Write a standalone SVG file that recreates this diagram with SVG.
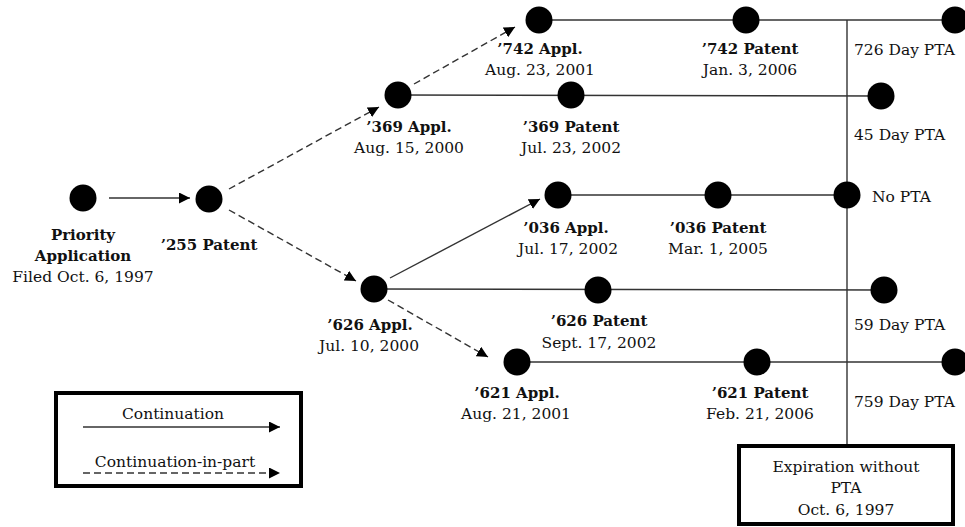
<svg xmlns="http://www.w3.org/2000/svg" width="965" height="527" viewBox="0 0 965 527">
<style>
text{font-family:"DejaVu Serif","Liberation Serif",serif;font-size:15.5px;fill:#111;text-anchor:middle}
.b{font-weight:bold;font-size:15px}
.l{text-anchor:start}
.dot{fill:#000}
.ln{stroke:#333;stroke-width:1.4;fill:none}
.ds{stroke-dasharray:7 4}
.box{fill:#fff;stroke:#000;stroke-width:4}
</style>
<defs>
<marker id="ah" viewBox="0 0 10 10" refX="10" refY="5" markerWidth="11" markerHeight="11" markerUnits="userSpaceOnUse" orient="auto">
<path d="M0,0 L10,5 L0,10 z" fill="#000"/>
</marker>
</defs>
<g id="connectors">
<line class="ln" x1="539" y1="20" x2="955" y2="20"/>
<line class="ln" x1="398" y1="95" x2="881" y2="96"/>
<line class="ln" x1="558" y1="195" x2="847" y2="195"/>
<line class="ln" x1="374" y1="289" x2="884" y2="290"/>
<line class="ln" x1="517" y1="362" x2="955" y2="362"/>
<line class="ln" x1="847" y1="20" x2="847" y2="445"/>
<line class="ln" x1="109" y1="198" x2="190" y2="198" marker-end="url(#ah)"/>
<line class="ln ds" x1="229" y1="189" x2="379" y2="107" marker-end="url(#ah)"/>
<line class="ln ds" x1="414" y1="84" x2="515" y2="27" marker-end="url(#ah)"/>
<line class="ln ds" x1="229" y1="210" x2="356" y2="281" marker-end="url(#ah)"/>
<line class="ln" x1="390" y1="278" x2="540" y2="199" marker-end="url(#ah)"/>
<line class="ln ds" x1="388" y1="300" x2="488" y2="357" marker-end="url(#ah)"/>
</g>
<g id="priority"><circle class="dot" cx="83" cy="198" r="13.5"/><text class="b" x="83" y="240">Priority</text><text class="b" x="83" y="261">Application</text><text x="83" y="282">Filed Oct. 6, 1997</text></g>
<g id="p255"><circle class="dot" cx="209" cy="199" r="13.5"/><text class="b" x="209" y="250">’255 Patent</text></g>
<g id="a369"><circle class="dot" cx="398" cy="95" r="13.5"/><text class="b" x="409" y="132">’369 Appl.</text><text x="409" y="153">Aug. 15, 2000</text></g>
<g id="a742"><circle class="dot" cx="539" cy="20" r="13.5"/><text class="b" x="540" y="54">’742 Appl.</text><text x="540" y="75">Aug. 23, 2001</text></g>
<g id="p742"><circle class="dot" cx="746" cy="20" r="13.5"/><text class="b" x="750" y="54">’742 Patent</text><text x="750" y="75">Jan. 3, 2006</text></g>
<g id="pta726"><circle class="dot" cx="955" cy="20" r="13.5"/><text class="l" x="854" y="55">726 Day PTA</text></g>
<g id="p369"><circle class="dot" cx="571" cy="95" r="13.5"/><text class="b" x="571" y="132">’369 Patent</text><text x="571" y="153">Jul. 23, 2002</text></g>
<g id="pta45"><circle class="dot" cx="881" cy="96" r="13.5"/><text class="l" x="854" y="140">45 Day PTA</text></g>
<g id="a036"><circle class="dot" cx="558" cy="195" r="13.5"/><text class="b" x="566" y="233">’036 Appl.</text><text x="568" y="254">Jul. 17, 2002</text></g>
<g id="p036"><circle class="dot" cx="718" cy="195" r="13.5"/><text class="b" x="718" y="233">’036 Patent</text><text x="718" y="254">Mar. 1, 2005</text></g>
<g id="nopta"><circle class="dot" cx="847" cy="195" r="13.5"/><text class="l" x="872" y="202">No PTA</text></g>
<g id="a626"><circle class="dot" cx="374" cy="289" r="13.5"/><text class="b" x="370" y="330">’626 Appl.</text><text x="369" y="351">Jul. 10, 2000</text></g>
<g id="p626"><circle class="dot" cx="598" cy="290" r="13.5"/><text class="b" x="599" y="326">’626 Patent</text><text x="599" y="348">Sept. 17, 2002</text></g>
<g id="pta59"><circle class="dot" cx="884" cy="290" r="13.5"/><text class="l" x="854" y="330">59 Day PTA</text></g>
<g id="a621"><circle class="dot" cx="517" cy="362" r="13.5"/><text class="b" x="517" y="398">’621 Appl.</text><text x="516" y="419">Aug. 21, 2001</text></g>
<g id="p621"><circle class="dot" cx="757" cy="362" r="13.5"/><text class="b" x="760" y="398">’621 Patent</text><text x="760" y="419">Feb. 21, 2006</text></g>
<g id="pta759"><circle class="dot" cx="955" cy="362" r="13.5"/><text class="l" x="854" y="407">759 Day PTA</text></g>
<g id="expiration"><rect class="box" x="739" y="446" width="214" height="78"/><text x="846" y="472">Expiration without</text><text x="846" y="493">PTA</text><text x="846" y="515">Oct. 6, 1997</text></g>
<g id="legend"><rect class="box" x="56" y="393" width="245" height="93"/><text x="173" y="419">Continuation</text><line class="ln" x1="83" y1="427" x2="280" y2="427" marker-end="url(#ah)"/><text x="175" y="467">Continuation-in-part</text><line class="ln ds" x1="83" y1="473" x2="280" y2="473" marker-end="url(#ah)"/></g>
</svg>
